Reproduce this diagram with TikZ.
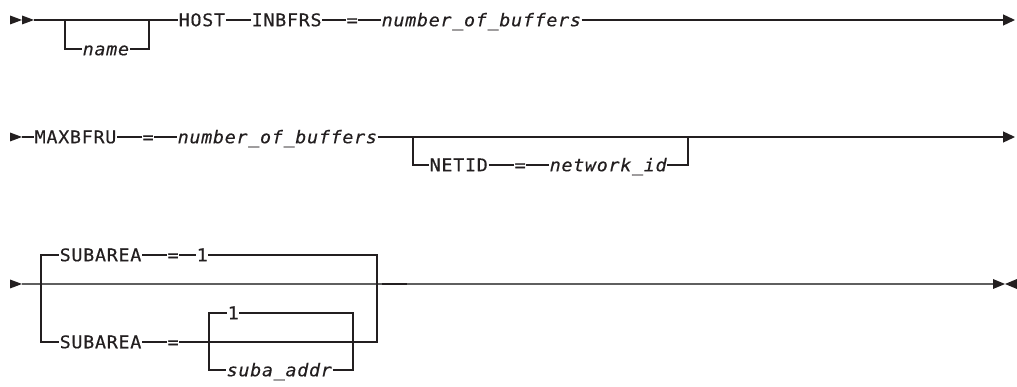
\documentclass[tikz,border=0pt]{standalone}
\usepackage{fontspec}
\usepackage{tikz}
\usetikzlibrary{arrows.meta,positioning,calc}
\newfontfamily\railfont[LetterSpace=4,FakeStretch=1.05,FakeBold=0.4]{DejaVu Sans Mono}
\definecolor{railInk} {RGB}{35, 31, 32}
\definecolor{railGray}{RGB}{95, 95, 95}

\tikzset{
  kw/.style={font=\railfont\fontsize{17.5}{20}\selectfont,text=railInk,
             inner xsep=0.5pt,inner ysep=0pt,text height=12.5pt,text depth=0pt,anchor=west},
  var/.style={kw,font=\railfont\fontsize{17.5}{20}\selectfont\itshape},
  rail/.style={draw=railInk,line width=1.3pt},
  tip/.style={fill=railInk},
}

\begin{document}
\begin{tikzpicture}[x=1pt,y=-1pt]
    \useasboundingbox (0,0) rectangle (1017,387);

    % ── ROW 1 ──────────────────────────────────────────────
    \foreach \x in {10,22}{
      \fill[tip] (\x,15.5) -- ++(12,4.5) -- ++(-12,4.5) -- cycle;
    }
    \coordinate (s1)  at (34,20);
    \coordinate (f1l) at (65,20);
    \coordinate (f1r) at (149,20);
    \coordinate (e1)  at (1015,20);
    \node[var] (name)   at (82,49)  {name};
    \node[kw]  (host)   at (178,20) {HOST};
    \node[kw]  (inbfrs) at (251,20) {INBFRS};
    \node[kw]  (eq1)    at (346,20) {=};
    \node[var] (nob1)   at (381,20) {number\_of\_buffers};
    \draw[rail] (s1) -- (host);
    \draw[rail] (f1l) |- (name);
    \draw[rail] (name) -| (f1r);
    \draw[rail] (host) -- (inbfrs);
    \draw[rail] (inbfrs) -- (eq1);
    \draw[rail] (eq1) -- (nob1);
    \draw[rail,-{Triangle[length=12pt,width=11pt]}] (nob1) -- (e1);

    % ── ROW 2 ──────────────────────────────────────────────
    \fill[tip] (10,132.5) -- ++(12,4.5) -- ++(-12,4.5) -- cycle;
    \coordinate (s2)  at (22,137);
    \coordinate (f2l) at (413,137);
    \coordinate (f2r) at (688,137);
    \coordinate (e2)  at (1015,137);
    \node[kw]  (maxb)  at (34,137)  {MAXBFRU};
    \node[kw]  (eq2)   at (142,137) {=};
    \node[var] (nob2)  at (177,137) {number\_of\_buffers};
    \node[kw]  (netid) at (429,165) {NETID};
    \node[kw]  (eq3)   at (514,165) {=};
    \node[var] (netw)  at (549,165) {network\_id};
    \draw[rail] (s2) -- (maxb);
    \draw[rail] (maxb) -- (eq2);
    \draw[rail] (eq2) -- (nob2);
    \draw[rail,-{Triangle[length=12pt,width=11pt]}] (nob2) -- (e2);
    \draw[rail] (f2l) |- (netid);
    \draw[rail] (netid) -- (eq3);
    \draw[rail] (eq3) -- (netw);
    \draw[rail] (netw) -| (f2r);

    % ── ROW 3 ──────────────────────────────────────────────
    \fill[tip] (10,279.5) -- ++(12,4.5) -- ++(-12,4.5) -- cycle;
    \coordinate (s3)  at (22,284);
    \coordinate (e3)  at (993,284);
    \coordinate (o3l) at (41,284);
    \coordinate (o3r) at (377,284);
    \coordinate (i3l) at (209,342);
    \coordinate (i3r) at (353,342);
    \coordinate (m3a) at (382,284);
    \coordinate (m3b) at (407,284);
    \draw[rail,draw=railGray] (s3) -- (e3);
    \draw[rail] (m3a) -- (m3b);
    \fill[tip] (993,279) -- ++(12,5) -- ++(-12,5) -- cycle;
    \fill[tip] (1017,279) -- ++(-12,5) -- ++(12,5) -- cycle;

    % default
    \node[kw]  (sub1) at (59,255)  {SUBAREA};
    \node[kw]  (eq4)  at (167,255) {=};
    \node[kw]  (one1) at (196,255) {1};
    \draw[rail] (o3l) |- (sub1);
    \draw[rail] (sub1) -- (eq4);
    \draw[rail] (eq4) -- (one1);
    \draw[rail] (one1) -| (o3r);

    % choice
    \node[kw]  (sub2) at (59,342)  {SUBAREA};
    \node[kw]  (eq5)  at (167,342) {=};
    \node[kw]  (one2) at (227,313) {1};
    \node[var] (suba) at (226,370) {suba\_addr};
    \draw[rail] (o3l) |- (sub2);
    \draw[rail] (sub2) -- (eq5);
    \draw[rail] (eq5) -| (o3r);
    \draw[rail] (i3l) |- (one2);
    \draw[rail] (i3l) |- (suba);
    \draw[rail] (one2) -| (i3r);
    \draw[rail] (suba) -| (i3r);

  \end{tikzpicture}
\end{document}
